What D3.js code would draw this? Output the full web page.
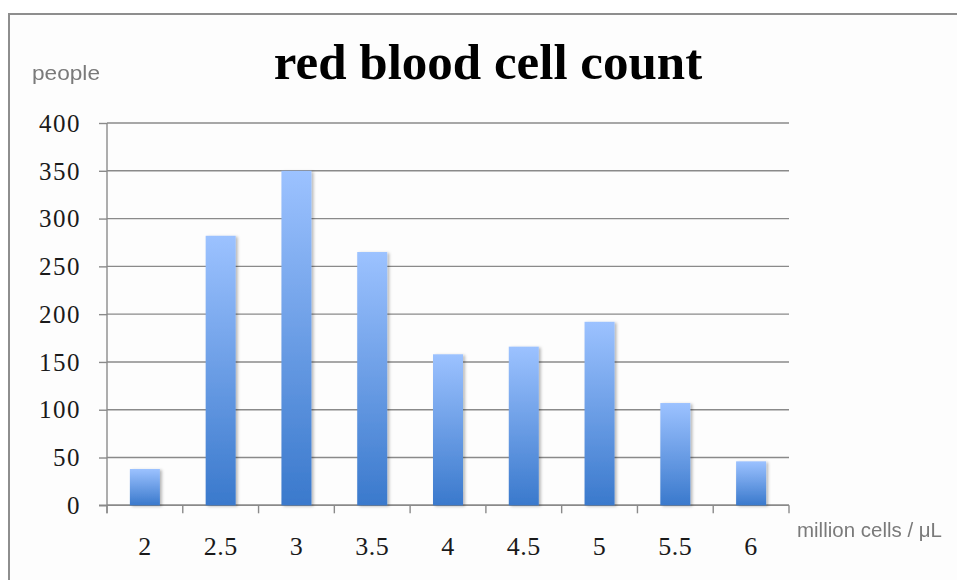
<!DOCTYPE html>
<html>
<head>
<meta charset="utf-8">
<script src="https://cdn.jsdelivr.net/npm/d3@7"></script>
<style>
  html, body { margin: 0; padding: 0; background: #ffffff; }
  svg { display: block; }
</style>
</head>
<body>
<svg id="chart" width="957" height="580"></svg>
<script>
// Red blood cell count histogram data
const categories = ["2", "2.5", "3", "3.5", "4", "4.5", "5", "5.5", "6"];
const people = [38, 282, 350, 265, 158, 166, 192, 107, 46];
const yTicks = [0, 50, 100, 150, 200, 250, 300, 350, 400];

const title = "red blood cell count";
const yLabel = "people";
const xLabel = "million cells / \u03bcL";

const svg = d3.select("#chart");
const W = 957, H = 580;
const plot = { left: 107, right: 789, top: 123, bottom: 505.3 };

const defs = svg.append("defs");
const grad = defs.append("linearGradient")
  .attr("id", "barFill")
  .attr("x1", 0).attr("y1", 0).attr("x2", 0).attr("y2", 1);
grad.append("stop").attr("offset", "0%").attr("stop-color", "#9cc2ff");
grad.append("stop").attr("offset", "100%").attr("stop-color", "#3a79cc");

const shadow = defs.append("filter").attr("id", "barShadow")
  .attr("x", "-20%").attr("y", "-5%").attr("width", "150%").attr("height", "115%");
shadow.append("feDropShadow")
  .attr("dx", 2).attr("dy", 1).attr("stdDeviation", 1.6)
  .attr("flood-color", "#000").attr("flood-opacity", 0.28);

const soft = defs.append("filter").attr("id", "soft");
soft.append("feGaussianBlur").attr("stdDeviation", 0.55);

// chart frame
svg.append("rect")
  .attr("x", 0).attr("y", 0).attr("width", W).attr("height", H)
  .attr("fill", "#ffffff");
svg.append("rect")
  .attr("x", 9).attr("y", 14).attr("width", 1100).attr("height", 1000)
  .attr("fill", "#fdfdfd")
  .attr("stroke", "#8e8e8e").attr("stroke-width", 2);

const x = d3.scaleBand()
  .domain(categories)
  .range([plot.left, plot.right])
  .paddingInner(0.604)
  .paddingOuter(0.302);

const y = d3.scaleLinear()
  .domain([0, 400])
  .range([plot.bottom, plot.top]);

// horizontal gridlines
svg.append("g")
  .selectAll("line")
  .data(yTicks)
  .join("line")
  .attr("x1", plot.left).attr("x2", plot.right)
  .attr("y1", d => y(d)).attr("y2", d => y(d))
  .attr("stroke", "#8a8a8a").attr("stroke-width", 1.4);

// y axis: line, outward ticks, labels
const yAxis = d3.axisLeft(y)
  .tickValues(yTicks)
  .tickSize(8)
  .tickPadding(18)
  .tickFormat(d3.format("d"));
const gy = svg.append("g")
  .attr("transform", `translate(${plot.left},0)`)
  .call(yAxis);
gy.select(".domain").attr("stroke", "#8a8a8a").attr("stroke-width", 1.4)
  .attr("d", `M0,${plot.top}V${plot.bottom + 8}`);
gy.selectAll(".tick line").attr("stroke", "#8a8a8a").attr("stroke-width", 1.4);
gy.selectAll(".tick text")
  .attr("font-family", "'Liberation Serif', serif")
  .attr("font-size", 25)
  .attr("letter-spacing", 1.5)
  .attr("fill", "#1a1a1a")
  .attr("dy", "0.33em");

// x axis baseline and ticks between categories
const step = x.step();
const boundaries = d3.range(categories.length + 1)
  .map(i => plot.left + i * step);
const gx = svg.append("g");
gx.append("line")
  .attr("x1", plot.left - 8).attr("x2", plot.right)
  .attr("y1", plot.bottom).attr("y2", plot.bottom)
  .attr("stroke", "#8a8a8a").attr("stroke-width", 1.4);
gx.selectAll("line.tick")
  .data(boundaries)
  .join("line")
  .attr("class", "tick")
  .attr("x1", d => d).attr("x2", d => d)
  .attr("y1", plot.bottom).attr("y2", plot.bottom + 8)
  .attr("stroke", "#8a8a8a").attr("stroke-width", 1.4);
gx.selectAll("text")
  .data(categories)
  .join("text")
  .attr("x", d => x(d) + x.bandwidth() / 2)
  .attr("y", 555)
  .attr("text-anchor", "middle")
  .attr("font-family", "'Liberation Serif', serif")
  .attr("font-size", 26)
  .attr("letter-spacing", 0.5)
  .attr("fill", "#1a1a1a")
  .text(d => d);

// bars
svg.append("g")
  .selectAll("rect")
  .data(categories.map((c, i) => ({ c, v: people[i] })))
  .join("rect")
  .attr("x", d => x(d.c))
  .attr("width", x.bandwidth())
  .attr("y", d => y(d.v))
  .attr("height", d => y(0) - y(d.v))
  .attr("fill", "url(#barFill)")
  .attr("filter", "url(#barShadow)");

// title
svg.append("text")
  .attr("x", 488).attr("y", 79)
  .attr("text-anchor", "middle")
  .attr("font-family", "'Liberation Serif', serif")
  .attr("font-weight", "bold")
  .attr("font-size", 51)
  .attr("fill", "#000")
  .text(title);

// axis titles
svg.append("text")
  .attr("x", 32).attr("y", 80)
  .attr("font-family", "'Liberation Sans', Arial, sans-serif")
  .attr("font-size", 21)
  .attr("textLength", 68)
  .attr("lengthAdjust", "spacingAndGlyphs")
  .attr("fill", "#7a7a7a")
  .attr("filter", "url(#soft)")
  .text(yLabel);

svg.append("text")
  .attr("x", 797).attr("y", 537)
  .attr("font-family", "'Liberation Sans', Arial, sans-serif")
  .attr("font-size", 20)
  .attr("textLength", 145)
  .attr("lengthAdjust", "spacingAndGlyphs")
  .attr("fill", "#7a7a7a")
  .attr("filter", "url(#soft)")
  .text(xLabel);
</script>
</body>
</html>
